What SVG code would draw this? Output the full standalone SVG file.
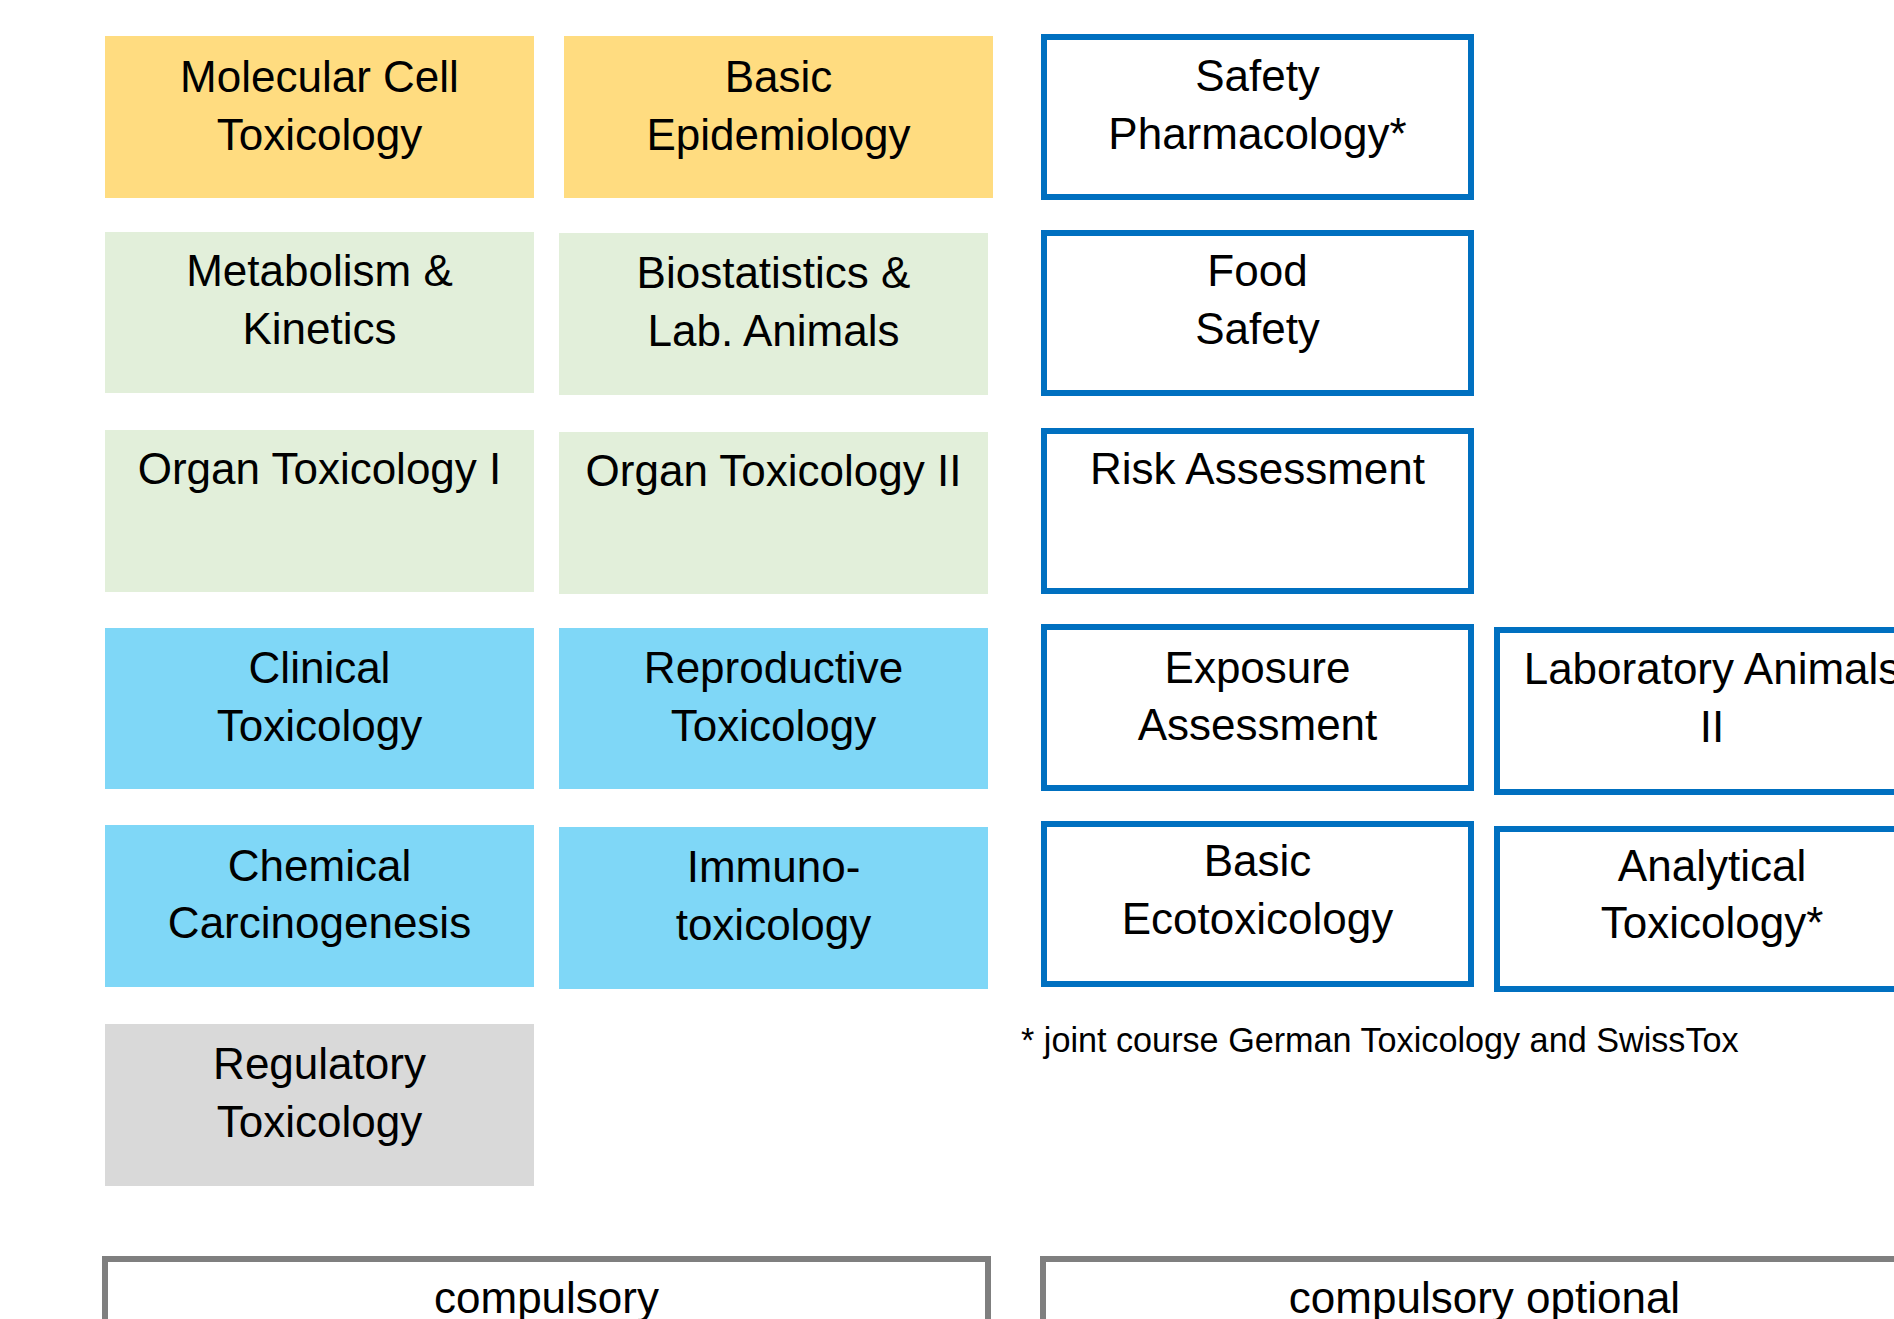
<svg xmlns="http://www.w3.org/2000/svg" width="1894" height="1319" viewBox="0 0 1894 1319">
<style>
text{font-family:"Liberation Sans",Arial,sans-serif;font-size:44px;fill:#000;text-anchor:middle}
.y{fill:#FFDC80}
.g{fill:#E2EFDA}
.b{fill:#7FD7F7}
.gr{fill:#D9D9D9}
.o{fill:#fff;stroke:#0070C0;stroke-width:6}
.k{fill:#fff;stroke:#7F7F7F;stroke-width:6}
.fn{font-size:34.2px;text-anchor:start}
</style>
<rect width="1894" height="1319" fill="#fff"/>
<g id="molecular-cell-toxicology"><rect class="y" x="105" y="36" width="429" height="162"/><text x="319.5" y="92">Molecular Cell</text><text x="319.5" y="150">Toxicology</text></g>
<g id="basic-epidemiology"><rect class="y" x="564" y="36" width="429" height="162"/><text x="778.5" y="92">Basic</text><text x="778.5" y="150">Epidemiology</text></g>
<g id="metabolism-kinetics"><rect class="g" x="105" y="232" width="429" height="161"/><text x="319.5" y="286">Metabolism &amp;</text><text x="319.5" y="344">Kinetics</text></g>
<g id="biostatistics-lab-animals"><rect class="g" x="559" y="233" width="429" height="162"/><text x="773.5" y="288">Biostatistics &amp;</text><text x="773.5" y="346">Lab. Animals</text></g>
<g id="organ-toxicology-1"><rect class="g" x="105" y="430" width="429" height="162"/><text x="319.5" y="484">Organ Toxicology I</text></g>
<g id="organ-toxicology-2"><rect class="g" x="559" y="432" width="429" height="162"/><text x="773.5" y="486">Organ Toxicology II</text></g>
<g id="clinical-toxicology"><rect class="b" x="105" y="628" width="429" height="161"/><text x="319.5" y="683">Clinical</text><text x="319.5" y="741">Toxicology</text></g>
<g id="reproductive-toxicology"><rect class="b" x="559" y="628" width="429" height="161"/><text x="773.5" y="683">Reproductive</text><text x="773.5" y="741">Toxicology</text></g>
<g id="chemical-carcinogenesis"><rect class="b" x="105" y="825" width="429" height="162"/><text x="319.5" y="881">Chemical</text><text x="319.5" y="938">Carcinogenesis</text></g>
<g id="immunotoxicology"><rect class="b" x="559" y="827" width="429" height="162"/><text x="773.5" y="882">Immuno-</text><text x="773.5" y="940">toxicology</text></g>
<g id="regulatory-toxicology"><rect class="gr" x="105" y="1024" width="429" height="162"/><text x="319.5" y="1079">Regulatory</text><text x="319.5" y="1137">Toxicology</text></g>
<g id="safety-pharmacology"><rect class="o" x="1044" y="37" width="427" height="160"/><text x="1257.5" y="91">Safety</text><text x="1257.5" y="149">Pharmacology*</text></g>
<g id="food-safety"><rect class="o" x="1044" y="233" width="427" height="160"/><text x="1257.5" y="286">Food</text><text x="1257.5" y="344">Safety</text></g>
<g id="risk-assessment"><rect class="o" x="1044" y="431" width="427" height="160"/><text x="1257.5" y="484">Risk Assessment</text></g>
<g id="exposure-assessment"><rect class="o" x="1044" y="627" width="427" height="161"/><text x="1257.5" y="683">Exposure</text><text x="1257.5" y="740">Assessment</text></g>
<g id="laboratory-animals-2"><rect class="o" x="1497" y="630" width="430" height="162"/><text x="1712" y="684">Laboratory Animals</text><text x="1712" y="742">II</text></g>
<g id="basic-ecotoxicology"><rect class="o" x="1044" y="824" width="427" height="160"/><text x="1257.5" y="876">Basic</text><text x="1257.5" y="934">Ecotoxicology</text></g>
<g id="analytical-toxicology"><rect class="o" x="1497" y="829" width="430" height="160"/><text x="1712" y="881">Analytical</text><text x="1712" y="938">Toxicology*</text></g>
<g id="footnote"><text class="fn" x="1021" y="1052">* joint course German Toxicology and SwissTox</text></g>
<g id="legend-compulsory"><rect class="k" x="105" y="1259" width="883" height="100"/><text x="546.5" y="1313">compulsory</text></g>
<g id="legend-compulsory-optional"><rect class="k" x="1043" y="1259" width="883" height="100"/><text x="1484.5" y="1313">compulsory optional</text></g>
<g id="connectors"></g>
</svg>
